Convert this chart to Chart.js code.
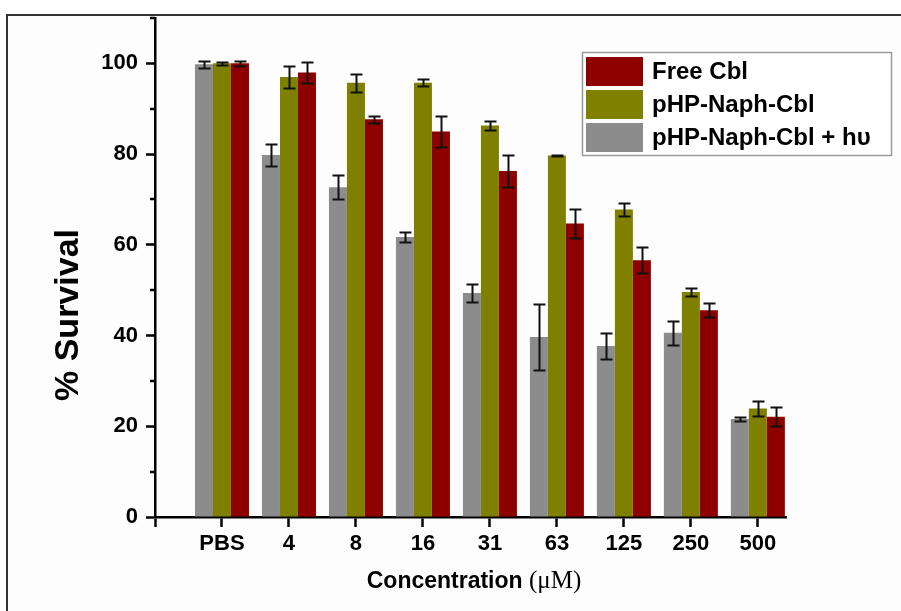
<!DOCTYPE html>
<html>
<head>
<meta charset="utf-8">
<script src="https://cdn.jsdelivr.net/npm/chart.js@4.4.1/dist/chart.umd.min.js"></script>
<style>
  html, body { margin: 0; padding: 0; background: #fff; overflow: hidden; }
  #wrap { position: relative; width: 901px; height: 611px; }
  #frame { position: absolute; left: 6px; top: 14px; width: 1000px; height: 700px;
           border-top: 2px solid #333; border-left: 2px solid #333; background: #fdfdfd; }
  #survival { position: absolute; left: 0; top: 0; }
</style>
</head>
<body>
<div id="wrap">
  <div id="frame"></div>
  <canvas id="survival" width="901" height="611"></canvas>
</div>
<script>
// concentrations (uM) and % survival, mean and error
var categories = ['PBS', '4', '8', '16', '31', '63', '125', '250', '500'];

var freeCbl      = [100, 98.0, 87.7, 85.0, 76.3, 64.7, 56.6, 45.6, 22.1];
var freeCblErr   = [0.6, 2.3, 0.8, 3.5, 3.6, 3.2, 2.9, 1.5, 2.1];

var naphCbl      = [100, 97.0, 95.7, 95.7, 86.3, 79.7, 67.8, 49.6, 23.9];
var naphCblErr   = [0.3, 2.4, 2.0, 0.8, 1.0, 0.2, 1.5, 0.9, 1.7];

var naphLight    = [99.8, 79.8, 72.7, 61.7, 49.4, 39.7, 37.7, 40.6, 21.6];
var naphLightErr = [0.8, 2.5, 2.7, 1.1, 2.0, 7.3, 2.8, 2.7, 0.4];

var yTicks = [0, 20, 40, 60, 80, 100];

var SANS = '"Liberation Sans", Arial, Helvetica, sans-serif';
var SERIF = '"Liberation Serif", "Times New Roman", serif';

function points(arr) {
    return arr.map(function (v, i) { return { x: i + 1, y: v }; });
}

// black error bars with caps, on top of every bar
var errorBars = {
    id: 'errorBars',
    afterDatasetsDraw: function (chart) {
        var ctx = chart.ctx;
        var yScale = chart.scales.y;
        ctx.save();
        ctx.strokeStyle = '#111';
        ctx.lineWidth = 2;
        chart.data.datasets.forEach(function (ds, di) {
            var meta = chart.getDatasetMeta(di);
            meta.data.forEach(function (bar, i) {
                var v = ds.data[i].y, e = ds.errors[i];
                var top = Math.round(yScale.getPixelForValue(v + e)) + 0.5;
                var bot = Math.round(yScale.getPixelForValue(v - e)) + 0.5;
                var x = Math.round(bar.x) + 0.5;
                ctx.beginPath();
                ctx.moveTo(x, top); ctx.lineTo(x, bot);
                ctx.moveTo(x - 6, top); ctx.lineTo(x + 6, top);
                ctx.moveTo(x - 6, bot); ctx.lineTo(x + 6, bot);
                ctx.stroke();
            });
        });
        ctx.restore();
    }
};

// short minor ticks between the labelled ones on the y axis
var minorTicks = {
    id: 'minorTicks',
    afterDraw: function (chart) {
        var ctx = chart.ctx, y = chart.scales.y;
        var left = chart.chartArea.left;
        ctx.save();
        ctx.strokeStyle = '#000';
        ctx.lineWidth = 2.5;
        for (var v = 10; v <= 110; v += 20) {
            var py = Math.round(y.getPixelForValue(v));
            ctx.beginPath();
            ctx.moveTo(left - 5, py);
            ctx.lineTo(left, py);
            ctx.stroke();
        }
        ctx.restore();
    }
};

// axis titles: bold sans with a serif unit
var axisTitles = {
    id: 'axisTitles',
    afterDraw: function (chart) {
        var ctx = chart.ctx;
        ctx.save();
        ctx.fillStyle = '#000';
        ctx.textBaseline = 'alphabetic';

        // x title
        var bold = 'bold 23px ' + SANS, unit = '25px ' + SERIF;
        ctx.font = bold;
        var w1 = ctx.measureText('Concentration ').width;
        ctx.font = unit;
        var w2 = ctx.measureText('(\u03bcM)').width;
        var cx = 474;
        var x0 = cx - (w1 + w2) / 2;
        ctx.font = bold;
        ctx.fillText('Concentration ', x0, 588);
        ctx.font = unit;
        ctx.fillText('(\u03bcM)', x0 + w1, 588);

        // y title
        ctx.translate(78, 315);
        ctx.rotate(-Math.PI / 2);
        ctx.font = 'bold 34px ' + SANS;
        ctx.textAlign = 'center';
        ctx.fillText('% Survival', 0, 0);
        ctx.restore();
    }
};

// boxed legend, listed from the last dataset to the first
var boxLegend = {
    id: 'boxLegend',
    afterDraw: function (chart) {
        var ctx = chart.ctx;
        var x = 582, y = 52, w = 309, h = 103;
        ctx.save();
        ctx.fillStyle = '#fff';
        ctx.fillRect(x, y, w, h);
        ctx.strokeStyle = '#999';
        ctx.lineWidth = 1.5;
        ctx.strokeRect(x + 0.5, y + 0.5, w, h);
        ctx.font = 'bold 24px ' + SANS;
        ctx.textBaseline = 'middle';
        var sets = chart.data.datasets.slice().reverse();
        sets.forEach(function (ds, i) {
            var ry = y + 5 + i * 33;
            ctx.fillStyle = ds.backgroundColor;
            ctx.fillRect(x + 4, ry, 57, 29);
            ctx.fillStyle = '#000';
            ctx.fillText(ds.label, x + 70, ry + 15);
        });
        ctx.restore();
    }
};

var ctx = document.getElementById('survival');
var survivalChart = new Chart(ctx, {
    type: 'bar',
    data: {
        datasets: [
            { label: 'pHP-Naph-Cbl + h\u03c5', data: points(naphLight), errors: naphLightErr,
              backgroundColor: '#8c8c8c' },
            { label: 'pHP-Naph-Cbl', data: points(naphCbl), errors: naphCblErr,
              backgroundColor: '#808000' },
            { label: 'Free Cbl', data: points(freeCbl), errors: freeCblErr,
              backgroundColor: '#8e0000' }
        ]
    },
    options: {
        responsive: false,
        animation: false,
        events: [],
        layout: { padding: { left: 0, top: 18, right: 115, bottom: 0 } },
        datasets: { bar: { categoryPercentage: 0.806, barPercentage: 1.0, borderWidth: 0 } },
        plugins: { legend: { display: false }, tooltip: { enabled: false } },
        scales: {
            x: {
                type: 'linear',
                offset: false,
                min: 0,
                max: 9.42,
                afterBuildTicks: function (scale) {
                    scale.ticks = [];
                    for (var i = 0; i <= categories.length; i++) scale.ticks.push({ value: i });
                },
                afterFit: function (scale) { scale.height = 94; },
                grid: { offset: false, drawOnChartArea: false, tickLength: 10, tickColor: '#000', tickWidth: 2.5 },
                border: { display: true, color: '#000', width: 2.5 },
                ticks: {
                    autoSkip: false, maxRotation: 0, padding: 4, color: '#000',
                    font: { family: SANS, size: 22, weight: 'bold' },
                    callback: function (v) { return categories[v - 1] || ''; }
                }
            },
            y: {
                min: 0,
                max: 110,
                afterBuildTicks: function (scale) {
                    scale.ticks = yTicks.map(function (v) { return { value: v }; });
                },
                afterFit: function (scale) {
                    scale.width = 155;
                    scale.paddingTop = 0;
                    scale.paddingBottom = 0;
                },
                grid: { drawOnChartArea: false, tickLength: 9, tickColor: '#000', tickWidth: 2.5 },
                border: { display: true, color: '#000', width: 2.5 },
                ticks: {
                    padding: 8, color: '#000',
                    font: { family: SANS, size: 22, weight: 'bold' }
                }
            }
        }
    },
    plugins: [errorBars, minorTicks, axisTitles, boxLegend]
});
</script>
</body>
</html>
